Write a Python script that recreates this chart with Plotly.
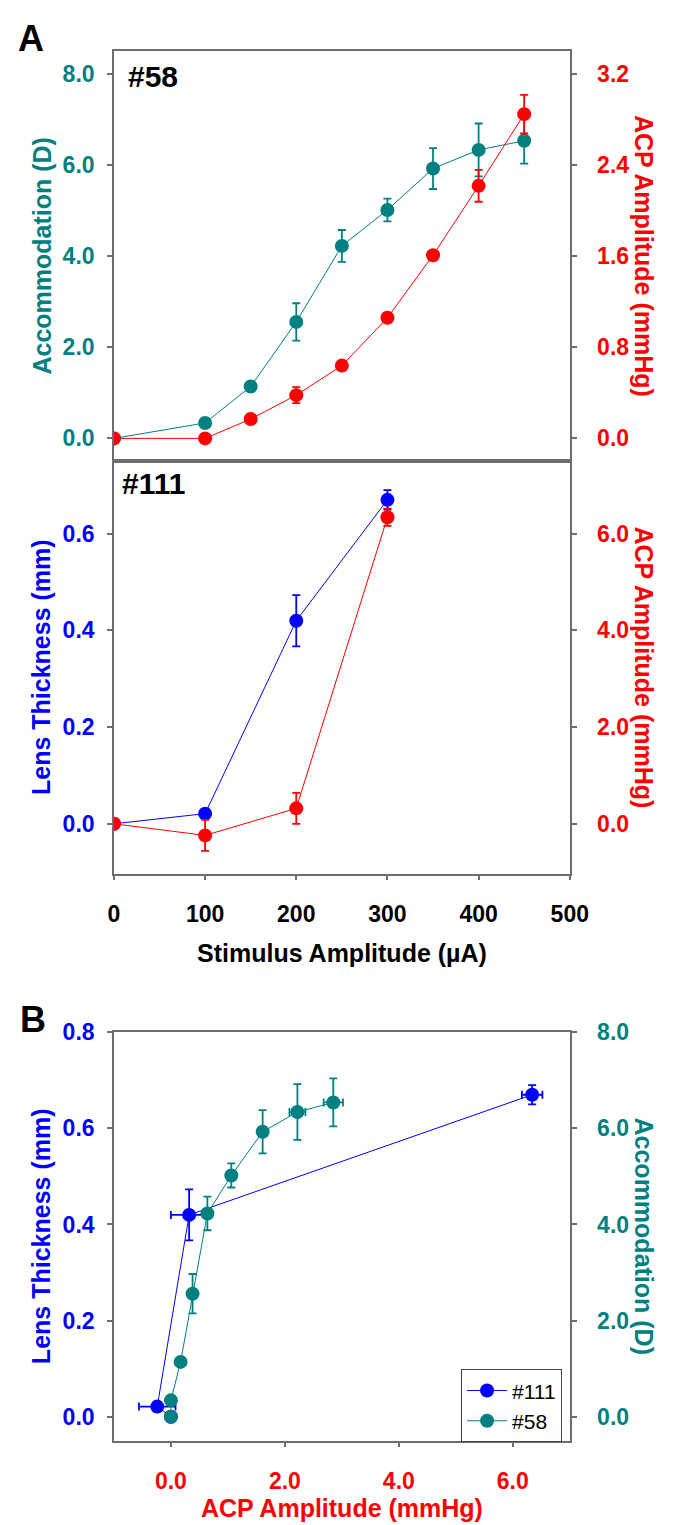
import plotly.graph_objects as go

# ------------------------------------------------------------
# Data
# ------------------------------------------------------------
# cat #58: stimulus vs accommodation / ACP
stim_58 = [0, 100, 150, 200, 250, 300, 350, 400, 450]
acc_58 = [0.0, 0.34, 1.14, 2.56, 4.23, 5.02, 5.93, 6.34, 6.54]
acc_58_err = [0.0, 0.05, 0.05, 0.41, 0.35, 0.25, 0.45, 0.58, 0.50]
acp_58 = [0.0, 0.0, 0.17, 0.38, 0.64, 1.06, 1.61, 2.22, 2.85]
acp_58_err = [0.0, 0.01, 0.03, 0.07, 0.03, 0.03, 0.03, 0.14, 0.17]

# cat #111: stimulus vs lens thickness / ACP
stim_111 = [0, 100, 200, 300]
lens_111 = [0.0, 0.021, 0.42, 0.67]
lens_111_err = [0.0, 0.01, 0.053, 0.02]
acp_111 = [0.0, -0.24, 0.32, 6.34]
acp_111_err = [0.0, 0.32, 0.32, 0.18]

TEAL = '#008080'
RED = '#ff0000'
BLUE = '#0000ff'
AXC = '#6e6e6e'
FONT = 'Arial, Liberation Sans, sans-serif'

W, H = 689, 1525

def px(rx):
    return rx / W

def py(ry):
    return 1 - ry / H

X_DOM = [px(112), px(585)]

fig = go.Figure()

def err(vals, color):
    return dict(type='data', array=vals, color=color, thickness=1.8, width=4)

# Panel A top
fig.add_trace(go.Scatter(x=stim_58, y=acc_58, error_y=err(acc_58_err, TEAL), mode='lines+markers',
                         line=dict(color=TEAL, width=1), marker=dict(color=TEAL, size=14),
                         xaxis='x', yaxis='y', showlegend=False))
fig.add_trace(go.Scatter(x=stim_58, y=acp_58, error_y=err(acp_58_err, RED), mode='lines+markers',
                         line=dict(color=RED, width=1), marker=dict(color=RED, size=14),
                         xaxis='x', yaxis='y2', showlegend=False))

# Panel A bottom
fig.add_trace(go.Scatter(x=stim_111, y=lens_111, error_y=err(lens_111_err, BLUE), mode='lines+markers',
                         line=dict(color=BLUE, width=1), marker=dict(color=BLUE, size=14),
                         xaxis='x3', yaxis='y3', showlegend=False))
fig.add_trace(go.Scatter(x=stim_111, y=acp_111, error_y=err(acp_111_err, RED), mode='lines+markers',
                         line=dict(color=RED, width=1), marker=dict(color=RED, size=14),
                         xaxis='x3', yaxis='y4', showlegend=False))

# Panel B
fig.add_trace(go.Scatter(x=acp_111, y=lens_111, error_x=err(acp_111_err, BLUE), error_y=err(lens_111_err, BLUE),
                         mode='lines+markers', name='#111',
                         line=dict(color=BLUE, width=1), marker=dict(color=BLUE, size=14),
                         xaxis='x5', yaxis='y5'))
fig.add_trace(go.Scatter(x=acp_58, y=acc_58, error_x=err(acp_58_err, TEAL), error_y=err(acc_58_err, TEAL),
                         mode='lines+markers', name='#58',
                         line=dict(color=TEAL, width=1), marker=dict(color=TEAL, size=14),
                         xaxis='x5', yaxis='y6'))

def yax(color, rng, dtick, dom=None, side='left', overlay=None, anchor=None):
    d = dict(range=rng, dtick=dtick, tick0=0, tickformat='.1f', showgrid=False, zeroline=False,
             showline=True, linecolor=AXC, linewidth=1.5, ticks='outside', ticklen=5,
             tickwidth=1.5, tickcolor=AXC, side=side,
             tickfont=dict(family=FONT, size=23, color=color, weight='bold'),
             ticklabelstandoff=8 if side == 'left' else 16)
    if dom is not None:
        d['domain'] = dom
    if overlay:
        d['overlaying'] = overlay
    if anchor:
        d['anchor'] = anchor
    return d

def xax(anchor, rng, show_labels=True, color='black', tickvals=None, fmt=None, dtick=None):
    d = dict(domain=X_DOM, anchor=anchor, range=rng, showgrid=False, zeroline=False,
             showline=True, mirror=True, linecolor=AXC, linewidth=1.5,
             tickfont=dict(family=FONT, size=23, color=color, weight='bold'),
             ticklabelstandoff=14)
    if show_labels:
        d.update(ticks='outside', ticklen=5, tickwidth=1.5, tickcolor=AXC)
        if tickvals is not None:
            d['tickvals'] = tickvals
        if dtick is not None:
            d['dtick'] = dtick
        if fmt:
            d['tickformat'] = fmt
    else:
        d.update(showticklabels=False, ticks='')
    return d

fig.update_layout(
    width=W, height=H, margin=dict(l=0, r=0, t=0, b=0),
    paper_bgcolor='white', plot_bgcolor='white',
    xaxis=xax('y', [0, 500], show_labels=False),
    yaxis=yax(TEAL, [-0.5, 8.52], 2, dom=[py(452), py(38)], anchor='x'),
    yaxis2=yax(RED, [-0.2, 3.408], 0.8, side='right', overlay='y', anchor='x'),
    xaxis3=xax('y3', [0, 500], dtick=100),
    yaxis3=yax(BLUE, [-0.103, 0.75], 0.2, dom=[py(868), py(452)], anchor='x3'),
    yaxis4=yax(RED, [-1.03, 7.5], 2, side='right', overlay='y3', anchor='x3'),
    xaxis5=xax('y5', [-1, 7], color=RED, tickvals=[0, 2, 4, 6], fmt='.1f'),
    yaxis5=yax(BLUE, [-0.05, 0.8001], 0.2, dom=[py(1440), py(1028)], anchor='x5'),
    yaxis6=yax(TEAL, [-0.5, 8.001], 2, side='right', overlay='y5', anchor='x5'),
    legend=dict(x=px(577), xanchor='right', y=py(1368), yanchor='top',
                bordercolor='#444', borderwidth=1, bgcolor='white', itemwidth=40,
                font=dict(family=FONT, size=21, color='black'), tracegroupgap=0),
)

def label(text, x, y, size, color='black', angle=0):
    fig.add_annotation(text=text, x=px(x), y=py(y), xref='paper', yref='paper',
                       showarrow=False, textangle=angle, xanchor='center', yanchor='middle',
                       font=dict(family=FONT, size=size, color=color, weight='bold'))

label('A', 26, 26, 36)
label('B', 28, 1015, 36)
label('#58', 153, 64, 30)
label('#111', 153, 475, 30)

label('Accommodation (D)', 37, 245, 25, TEAL, -90)
label('ACP Amplitude (mmHg)', 662, 245, 25, RED, 90)
label('Lens Thickness (mm)', 37, 660, 25, BLUE, -90)
label('ACP Amplitude (mmHg)', 662, 660, 25, RED, 90)
label('Stimulus Amplitude (µA)', 349, 948, 25)
label('Lens Thickness (mm)', 37, 1234, 25, BLUE, -90)
label('Accommodation (D)', 662, 1234, 25, TEAL, 90)
label('ACP Amplitude (mmHg)', 349, 1508, 25, RED)

# drop the default 8px page margin so the figure sits at the window's corner
fig.write_html('out.html', config={'displayModeBar': False},
               post_script="document.body.style.margin='0px';")
